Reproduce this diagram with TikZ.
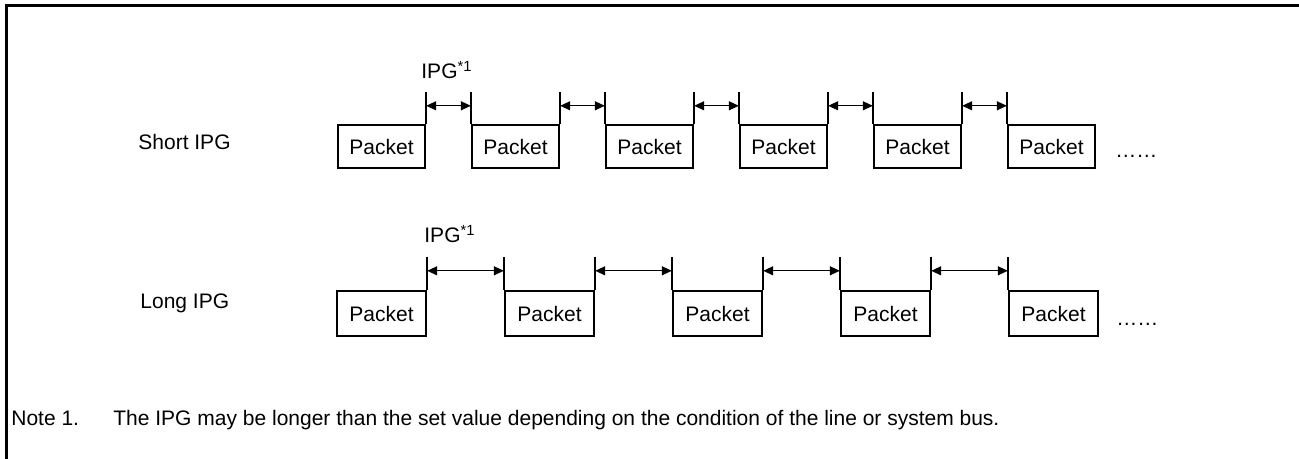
\documentclass[tikz,border=0pt]{standalone}
\usepackage{fontspec}
\setmainfont{Liberation Sans}
\usetikzlibrary{arrows.meta}
\tikzset{
  frame/.style={line width=1.5pt},
  packet/.style={draw, line width=1.2pt, minimum width=43.5pt, inner sep=0pt, font=\fontsize{10.5}{12}\selectfont},
  pline/.style={line width=1.2pt},
  gap/.style={line width=0.6pt, {Triangle[length=5pt,width=4.5pt]}-{Triangle[length=5pt,width=4.5pt]}},
  txt/.style={inner sep=0pt, font=\fontsize{10.5}{12}\selectfont}
}
\begin{document}
\begin{tikzpicture}[x=0.5pt,y=-0.5pt]
\useasboundingbox (0,0) rectangle (1299,459);
\draw[frame] (6,459) -- (6,6) -- (1299,6);

% Short IPG row
\node[txt, anchor=west] (shortlbl) at (138,142) {Short IPG};
\node[txt, anchor=base west] (ipgs) at (421,79) {IPG\textsuperscript{*1}};
\foreach \i in {1,...,6} {
  \node[packet, minimum height=21.5pt] (s\i) at ({381.5+134*(\i-1)},146.5) {Packet};
}
\foreach \i in {1,...,5} {
  \draw[pline] (s\i.north east) -- ++(0,-32) coordinate (s\i top);
  \path (s\i.north east) ++(0,-18) coordinate (s\i a);
}
\foreach \i in {2,...,6} {
  \draw[pline] (s\i.north west) -- ++(0,-32);
  \path (s\i.north west) ++(0,-18) coordinate (s\i b);
}
\foreach \i/\j in {1/2,2/3,3/4,4/5,5/6} {
  \draw[gap] (s\i a) -- (s\j b);
}
\node[txt, anchor=base west] (sdots) at (1115,158) {……};

% Long IPG row
\node[txt, anchor=west] (longlbl) at (140,303) {Long IPG};
\node[txt, anchor=base west] (ipgl) at (424,243) {IPG\textsuperscript{*1}};
\foreach \i in {1,...,5} {
  \node[packet, minimum width=44.5pt, minimum height=22.5pt] (l\i) at ({381.5+168*(\i-1)},313.5) {Packet};
}
\foreach \i in {1,...,4} {
  \draw[pline] (l\i.north east) -- ++(0,-33);
  \path (l\i.north east) ++(0,-19) coordinate (l\i a);
}
\foreach \i in {2,...,5} {
  \draw[pline] (l\i.north west) -- ++(0,-33);
  \path (l\i.north west) ++(0,-19) coordinate (l\i b);
}
\foreach \i/\j in {1/2,2/3,3/4,4/5} {
  \draw[gap] (l\i a) -- (l\j b);
}
\node[txt, anchor=base west] (ldots) at (1116,326) {……};

% Note
\node[txt, anchor=base west] (notenum) at (11,425) {Note 1.};
\node[txt, anchor=base west] (notetxt) at (113,425) {The IPG may be longer than the set value depending on the condition of the line or system bus.};
\end{tikzpicture}
\end{document}
